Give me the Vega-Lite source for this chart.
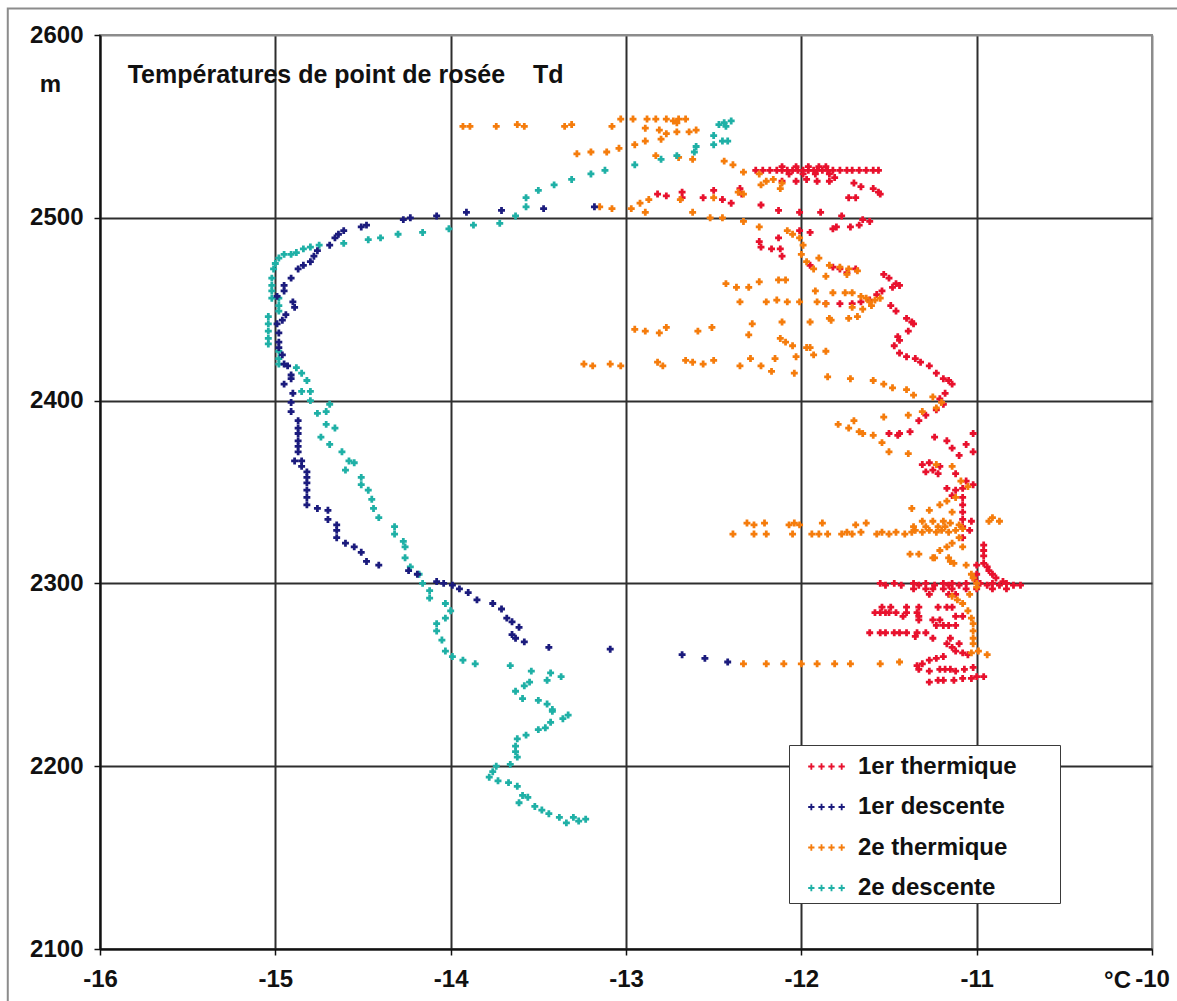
{
"$schema":"https://vega.github.io/schema/vega-lite/v6.json",
"width":1052,"height":914,
"autosize":{"type":"none"},
"padding":{"left":100,"top":35,"right":25,"bottom":52},
"background":"white",
"config":{
 "font":"Liberation Sans",
 "view":{"stroke":"#8c8c8c","strokeWidth":2},
 "axis":{"labelFont":"Liberation Sans","labelFontWeight":"bold","labelFontSize":24,"labelColor":"#111","titleFont":"Liberation Sans","titleFontWeight":"bold","titleFontSize":24,"titleColor":"#111","tickColor":"#111","tickWidth":1.5,"tickSize":6,"domainColor":"#111","domainWidth":2,"gridWidth":2,"labelOverlap":false,"labelFlush":false},
 "legend":{"orient":"none","legendX":689,"legendY":710,"fillColor":"white","strokeColor":"#3a3a3a","padding":3,"symbolType":"M-0.99,-0.05H-0.87V-0.17H-0.77V-0.05H-0.65V0.05H-0.77V0.17H-0.87V0.05H-0.99Z M-0.44,-0.05H-0.32V-0.17H-0.22V-0.05H-0.1V0.05H-0.22V0.17H-0.32V0.05H-0.44Z M0.1,-0.05H0.22V-0.17H0.32V-0.05H0.44V0.05H0.32V0.17H0.22V0.05H0.1Z M0.65,-0.05H0.77V-0.17H0.87V-0.05H0.99V0.05H0.87V0.17H0.77V0.05H0.65Z","symbolSize":1369,"symbolOffset":16,"symbolStrokeWidth":0,"labelOffset":13,"rowPadding":9.5,"labelFont":"Liberation Sans","labelFontSize":24,"labelFontWeight":"bold","labelColor":"#111","labelLimit":500}
},
"datasets":{
"t1":[{"x":-11.27,"y":2246},{"x":-11.22,"y":2247},{"x":-11.19,"y":2247},{"x":-11.13,"y":2247},{"x":-11.08,"y":2248},{"x":-11.03,"y":2248},{"x":-11.0,"y":2249},{"x":-10.96,"y":2249},
{"x":-11.27,"y":2252},{"x":-11.21,"y":2253},{"x":-11.18,"y":2253},{"x":-11.15,"y":2253},{"x":-11.12,"y":2252},{"x":-11.07,"y":2253},{"x":-11.02,"y":2254},{"x":-11.33,"y":2253},
{"x":-11.34,"y":2255},{"x":-11.31,"y":2256},{"x":-11.27,"y":2258},{"x":-11.23,"y":2259},{"x":-11.19,"y":2260},
{"x":-11.17,"y":2267},{"x":-11.14,"y":2265},{"x":-11.12,"y":2263},{"x":-11.08,"y":2262},{"x":-11.05,"y":2261},{"x":-11.15,"y":2270},{"x":-11.1,"y":2267},
{"x":-11.61,"y":2273},{"x":-11.55,"y":2273},{"x":-11.52,"y":2273},{"x":-11.47,"y":2273},{"x":-11.44,"y":2273},{"x":-11.4,"y":2273},{"x":-11.34,"y":2273},{"x":-11.29,"y":2273},{"x":-11.35,"y":2271},{"x":-11.25,"y":2270},
{"x":-11.23,"y":2277},{"x":-11.19,"y":2277},{"x":-11.16,"y":2277},{"x":-11.12,"y":2277},{"x":-11.33,"y":2280},{"x":-11.25,"y":2280},{"x":-11.21,"y":2280},
{"x":-11.58,"y":2284},{"x":-11.55,"y":2284},{"x":-11.52,"y":2284},{"x":-11.5,"y":2284},{"x":-11.46,"y":2284},{"x":-11.4,"y":2284},{"x":-11.34,"y":2284},
{"x":-11.54,"y":2287},{"x":-11.49,"y":2287},{"x":-11.4,"y":2287},{"x":-11.33,"y":2287},{"x":-11.22,"y":2287},{"x":-11.17,"y":2287},{"x":-11.14,"y":2287},
{"x":-11.42,"y":2282},{"x":-11.33,"y":2282},{"x":-11.12,"y":2282},{"x":-11.08,"y":2282},
{"x":-11.55,"y":2300},{"x":-11.52,"y":2299},{"x":-11.47,"y":2300},{"x":-11.43,"y":2299},{"x":-11.36,"y":2300},{"x":-11.33,"y":2299},{"x":-11.29,"y":2300},{"x":-11.24,"y":2299},{"x":-11.19,"y":2300},{"x":-11.16,"y":2299},{"x":-11.14,"y":2300},{"x":-11.1,"y":2299},{"x":-11.06,"y":2300},{"x":-10.98,"y":2300},{"x":-10.94,"y":2299},{"x":-10.91,"y":2300},{"x":-10.87,"y":2299},{"x":-10.83,"y":2300},{"x":-10.79,"y":2299},{"x":-10.75,"y":2299},
{"x":-11.36,"y":2297},{"x":-11.29,"y":2297},{"x":-11.25,"y":2297},{"x":-11.19,"y":2297},{"x":-11.14,"y":2297},{"x":-11.06,"y":2297},{"x":-11.0,"y":2297},{"x":-10.91,"y":2297},{"x":-10.83,"y":2297},
{"x":-11.27,"y":2294},{"x":-11.16,"y":2294},{"x":-11.12,"y":2294},
{"x":-10.96,"y":2321},{"x":-10.96,"y":2318},{"x":-10.96,"y":2315},{"x":-10.96,"y":2311},{"x":-10.94,"y":2309},{"x":-10.93,"y":2307},{"x":-10.91,"y":2305},{"x":-10.89,"y":2303},{"x":-10.85,"y":2301},{"x":-11.0,"y":2310},{"x":-11.0,"y":2305},{"x":-11.01,"y":2302},
{"x":-11.08,"y":2347},{"x":-11.08,"y":2343},{"x":-11.08,"y":2339},{"x":-11.08,"y":2335},{"x":-11.08,"y":2331},{"x":-11.12,"y":2360},{"x":-11.06,"y":2356},{"x":-11.02,"y":2354},{"x":-11.08,"y":2352},{"x":-11.12,"y":2351},{"x":-11.17,"y":2352},{"x":-11.14,"y":2348},{"x":-11.03,"y":2334},{"x":-11.04,"y":2329},{"x":-11.08,"y":2325},
{"x":-11.31,"y":2365},{"x":-11.27,"y":2366},{"x":-11.25,"y":2362},{"x":-11.29,"y":2361},{"x":-11.21,"y":2364},{"x":-11.22,"y":2360},
{"x":-11.24,"y":2380},{"x":-11.17,"y":2378},{"x":-11.14,"y":2374},{"x":-11.1,"y":2370},{"x":-11.06,"y":2376},{"x":-11.02,"y":2372},{"x":-11.02,"y":2382},{"x":-11.5,"y":2382},{"x":-11.45,"y":2381},
{"x":-11.29,"y":2392},{"x":-11.33,"y":2389},{"x":-11.38,"y":2383},{"x":-11.44,"y":2382},
{"x":-11.23,"y":2395},{"x":-11.19,"y":2398},{"x":-11.21,"y":2401},{"x":-11.18,"y":2404},{"x":-11.14,"y":2409},{"x":-11.16,"y":2411},{"x":-11.19,"y":2412},{"x":-11.23,"y":2415},{"x":-11.27,"y":2419},{"x":-11.32,"y":2421},{"x":-11.35,"y":2423},{"x":-11.4,"y":2424},{"x":-11.44,"y":2426},{"x":-11.47,"y":2430},{"x":-11.44,"y":2433},{"x":-11.45,"y":2435},{"x":-11.39,"y":2438},{"x":-11.36,"y":2442},{"x":-11.37,"y":2443},{"x":-11.4,"y":2445},{"x":-11.46,"y":2449},{"x":-11.49,"y":2452},{"x":-11.54,"y":2460},{"x":-11.57,"y":2458},{"x":-11.61,"y":2455},{"x":-11.66,"y":2454},{"x":-11.71,"y":2453},{"x":-11.78,"y":2453},{"x":-11.86,"y":2453},{"x":-11.48,"y":2462},{"x":-11.44,"y":2463},{"x":-11.46,"y":2464},{"x":-11.5,"y":2467},{"x":-11.53,"y":2469},
{"x":-11.95,"y":2474},{"x":-11.82,"y":2473},{"x":-11.78,"y":2472},{"x":-11.74,"y":2470},{"x":-11.69,"y":2472},
{"x":-12.24,"y":2487},{"x":-12.23,"y":2484},{"x":-12.17,"y":2483},{"x":-12.13,"y":2489},{"x":-12.11,"y":2479},{"x":-12.12,"y":2483},{"x":-12.01,"y":2493},{"x":-11.95,"y":2492},
{"x":-11.82,"y":2494},{"x":-11.72,"y":2495},{"x":-11.67,"y":2496},{"x":-11.61,"y":2498},{"x":-11.65,"y":2499},{"x":-11.8,"y":2495},{"x":-11.77,"y":2501},
{"x":-12.23,"y":2507},{"x":-12.13,"y":2504},{"x":-12.01,"y":2503},{"x":-11.89,"y":2503},
{"x":-12.82,"y":2513},{"x":-12.77,"y":2512},{"x":-12.68,"y":2514},{"x":-12.68,"y":2511},{"x":-12.56,"y":2511},{"x":-12.5,"y":2515},{"x":-12.45,"y":2510},{"x":-12.4,"y":2508},{"x":-12.35,"y":2516},{"x":-12.34,"y":2513},
{"x":-11.7,"y":2519},{"x":-11.66,"y":2517},{"x":-11.59,"y":2516},{"x":-11.56,"y":2514},{"x":-11.55,"y":2513},{"x":-11.69,"y":2511},{"x":-11.73,"y":2511},
{"x":-12.11,"y":2520},{"x":-12.03,"y":2520},{"x":-11.97,"y":2521},{"x":-11.91,"y":2520},{"x":-11.84,"y":2520},{"x":-11.81,"y":2522},
{"x":-12.26,"y":2526},{"x":-12.22,"y":2526},{"x":-12.18,"y":2526},{"x":-12.14,"y":2526},{"x":-12.11,"y":2526},{"x":-12.08,"y":2526},{"x":-12.05,"y":2526},{"x":-12.02,"y":2526},{"x":-11.99,"y":2526},{"x":-11.96,"y":2526},{"x":-11.93,"y":2526},{"x":-11.91,"y":2526},{"x":-11.88,"y":2526},{"x":-11.85,"y":2526},{"x":-11.82,"y":2526},{"x":-11.78,"y":2526},{"x":-11.74,"y":2526},{"x":-11.71,"y":2526},{"x":-11.67,"y":2526},{"x":-11.63,"y":2526},{"x":-11.59,"y":2526},{"x":-11.56,"y":2526},
{"x":-12.11,"y":2528},{"x":-12.03,"y":2528},{"x":-11.96,"y":2528},{"x":-11.9,"y":2528},{"x":-11.86,"y":2528},
{"x":-12.07,"y":2524},{"x":-11.99,"y":2524},{"x":-11.92,"y":2524},{"x":-11.84,"y":2524}],
"t2":[{"x":-13.93,"y":2550},{"x":-13.89,"y":2550},{"x":-13.74,"y":2550},{"x":-13.62,"y":2551},{"x":-13.58,"y":2550},{"x":-13.35,"y":2550},{"x":-13.31,"y":2551},{"x":-13.08,"y":2550},{"x":-13.03,"y":2554},{"x":-12.96,"y":2554},{"x":-12.88,"y":2554},{"x":-12.83,"y":2554},{"x":-12.77,"y":2554},{"x":-12.73,"y":2553},{"x":-12.7,"y":2554},{"x":-12.66,"y":2554},{"x":-12.71,"y":2552},{"x":-12.89,"y":2549},{"x":-12.81,"y":2548},{"x":-12.77,"y":2546},{"x":-12.71,"y":2547},{"x":-12.64,"y":2547},{"x":-12.6,"y":2548},{"x":-12.95,"y":2540},{"x":-12.89,"y":2542},{"x":-12.8,"y":2543},{"x":-12.83,"y":2534},{"x":-12.7,"y":2533},{"x":-12.62,"y":2532},{"x":-12.44,"y":2531},{"x":-12.39,"y":2529},{"x":-12.33,"y":2525},{"x":-12.24,"y":2524},{"x":-12.2,"y":2520},{"x":-12.16,"y":2521},{"x":-12.11,"y":2519},{"x":-12.23,"y":2518},{"x":-12.12,"y":2516},{"x":-12.36,"y":2514},{"x":-12.33,"y":2513},{"x":-12.5,"y":2511},{"x":-12.69,"y":2510},{"x":-12.97,"y":2505},{"x":-12.92,"y":2508},{"x":-12.87,"y":2510},{"x":-12.89,"y":2503},{"x":-13.08,"y":2505},{"x":-13.15,"y":2506},{"x":-13.2,"y":2536},{"x":-13.11,"y":2536},{"x":-13.04,"y":2538},{"x":-13.28,"y":2535},{"x":-12.62,"y":2503},{"x":-12.52,"y":2500},{"x":-12.45,"y":2500},{"x":-12.33,"y":2498},{"x":-12.24,"y":2495},
{"x":-12.08,"y":2493},{"x":-12.05,"y":2491},{"x":-12.01,"y":2489},{"x":-11.99,"y":2485},{"x":-12.0,"y":2480},{"x":-11.97,"y":2476},{"x":-11.93,"y":2472},{"x":-11.9,"y":2478},{"x":-11.84,"y":2474},{"x":-11.78,"y":2473},{"x":-11.73,"y":2472},{"x":-11.68,"y":2471},{"x":-11.86,"y":2468},{"x":-11.74,"y":2469},{"x":-12.09,"y":2466},{"x":-12.13,"y":2466},{"x":-12.24,"y":2465},{"x":-12.43,"y":2464},{"x":-12.37,"y":2462},{"x":-12.3,"y":2462},{"x":-12.35,"y":2454},{"x":-12.2,"y":2454},{"x":-12.14,"y":2455},{"x":-12.08,"y":2454},{"x":-12.01,"y":2454},{"x":-11.92,"y":2460},{"x":-11.82,"y":2459},{"x":-11.75,"y":2459},{"x":-11.71,"y":2459},{"x":-11.66,"y":2457},{"x":-11.63,"y":2456},{"x":-11.61,"y":2454},{"x":-11.58,"y":2455},{"x":-11.55,"y":2456},{"x":-11.6,"y":2452},{"x":-11.65,"y":2450},{"x":-11.71,"y":2451},{"x":-11.73,"y":2445},{"x":-11.68,"y":2446},{"x":-11.83,"y":2444},{"x":-11.91,"y":2454},{"x":-11.86,"y":2453},{"x":-11.84,"y":2445},{"x":-11.95,"y":2443},{"x":-12.11,"y":2443},{"x":-12.28,"y":2442},{"x":-12.3,"y":2436},{"x":-12.51,"y":2440},{"x":-12.59,"y":2438},{"x":-12.95,"y":2439},{"x":-12.89,"y":2438},{"x":-12.81,"y":2437},{"x":-12.77,"y":2440},{"x":-12.12,"y":2434},{"x":-12.09,"y":2432},{"x":-12.05,"y":2430},{"x":-11.97,"y":2429},{"x":-11.86,"y":2427},{"x":-11.93,"y":2425},{"x":-11.95,"y":2429},
{"x":-13.24,"y":2420},{"x":-13.19,"y":2419},{"x":-13.09,"y":2420},{"x":-13.03,"y":2419},{"x":-12.82,"y":2421},{"x":-12.79,"y":2419},{"x":-12.66,"y":2422},{"x":-12.62,"y":2421},{"x":-12.56,"y":2420},{"x":-12.5,"y":2422},{"x":-12.35,"y":2419},{"x":-12.29,"y":2423},{"x":-12.23,"y":2419},{"x":-12.17,"y":2416},{"x":-12.04,"y":2415},{"x":-12.15,"y":2423},{"x":-12.03,"y":2424},
{"x":-11.85,"y":2413},{"x":-11.72,"y":2412},{"x":-11.59,"y":2411},{"x":-11.53,"y":2409},{"x":-11.48,"y":2407},{"x":-11.4,"y":2406},{"x":-11.36,"y":2403},{"x":-11.25,"y":2402},{"x":-11.2,"y":2399},{"x":-11.23,"y":2396},{"x":-11.31,"y":2394},{"x":-11.39,"y":2392},{"x":-11.53,"y":2391},{"x":-11.7,"y":2389},{"x":-11.79,"y":2387},{"x":-11.73,"y":2385},{"x":-11.67,"y":2383},{"x":-11.65,"y":2382},{"x":-11.59,"y":2381},{"x":-11.54,"y":2377},{"x":-11.5,"y":2372},{"x":-11.39,"y":2371},{"x":-11.23,"y":2365},{"x":-11.14,"y":2364},{"x":-11.09,"y":2356},{"x":-11.12,"y":2347},{"x":-11.05,"y":2353},
{"x":-11.37,"y":2341},{"x":-11.27,"y":2340},{"x":-11.21,"y":2343},{"x":-11.17,"y":2345},{"x":-11.14,"y":2339},
{"x":-12.39,"y":2327},{"x":-12.27,"y":2327},{"x":-12.2,"y":2327},{"x":-12.05,"y":2327},{"x":-11.94,"y":2327},{"x":-11.9,"y":2327},{"x":-11.85,"y":2327},{"x":-11.77,"y":2327},{"x":-11.74,"y":2328},{"x":-11.71,"y":2327},{"x":-11.66,"y":2328},{"x":-11.57,"y":2327},{"x":-11.54,"y":2328},{"x":-11.5,"y":2327},{"x":-11.46,"y":2328},{"x":-11.41,"y":2327},{"x":-11.37,"y":2328},{"x":-11.35,"y":2329},{"x":-11.31,"y":2328},{"x":-11.27,"y":2329},{"x":-11.23,"y":2328},{"x":-11.2,"y":2329},{"x":-11.16,"y":2328},{"x":-11.12,"y":2329},{"x":-11.08,"y":2330},
{"x":-12.31,"y":2333},{"x":-12.27,"y":2332},{"x":-12.21,"y":2333},{"x":-12.07,"y":2332},{"x":-12.04,"y":2333},{"x":-12.01,"y":2332},{"x":-11.88,"y":2333},{"x":-11.69,"y":2332},{"x":-11.63,"y":2333},{"x":-11.36,"y":2331},{"x":-11.31,"y":2334},{"x":-11.25,"y":2334},{"x":-11.19,"y":2334},{"x":-11.15,"y":2333},{"x":-11.29,"y":2331},{"x":-11.22,"y":2331},{"x":-11.18,"y":2331},{"x":-11.1,"y":2332},
{"x":-10.91,"y":2336},{"x":-10.87,"y":2334},{"x":-10.93,"y":2334},
{"x":-11.38,"y":2316},{"x":-11.33,"y":2316},{"x":-11.25,"y":2314},{"x":-11.21,"y":2318},{"x":-11.17,"y":2320},{"x":-11.14,"y":2322},{"x":-11.1,"y":2325},{"x":-11.15,"y":2312},{"x":-11.13,"y":2311},{"x":-11.24,"y":2314},{"x":-11.16,"y":2314},{"x":-11.08,"y":2320},
{"x":-11.02,"y":2303},{"x":-11.0,"y":2300},{"x":-11.0,"y":2298},{"x":-11.04,"y":2294},{"x":-11.14,"y":2293},{"x":-11.11,"y":2291},{"x":-11.08,"y":2289},{"x":-11.05,"y":2285},{"x":-11.03,"y":2281},{"x":-11.02,"y":2278},{"x":-11.02,"y":2274},{"x":-11.02,"y":2270},{"x":-11.02,"y":2267},{"x":-11.03,"y":2262},{"x":-10.99,"y":2263},{"x":-10.94,"y":2261},{"x":-11.06,"y":2310},{"x":-11.03,"y":2305},
{"x":-12.33,"y":2256},{"x":-12.2,"y":2256},{"x":-12.1,"y":2256},{"x":-12.0,"y":2256},{"x":-11.91,"y":2256},{"x":-11.81,"y":2256},{"x":-11.72,"y":2256},{"x":-11.55,"y":2256},{"x":-11.44,"y":2257}],
"d2":[{"x":-12.4,"y":2553},{"x":-12.44,"y":2552},{"x":-12.47,"y":2551},{"x":-12.43,"y":2550},{"x":-12.5,"y":2545},{"x":-12.5,"y":2540},{"x":-12.45,"y":2542},{"x":-12.42,"y":2542},{"x":-12.6,"y":2539},{"x":-12.61,"y":2536},{"x":-12.71,"y":2534},{"x":-12.8,"y":2532},{"x":-12.95,"y":2529},{"x":-13.12,"y":2526},{"x":-13.2,"y":2524},{"x":-13.31,"y":2521},{"x":-13.41,"y":2518},{"x":-13.5,"y":2515},{"x":-13.57,"y":2511},{"x":-13.57,"y":2506},{"x":-13.63,"y":2501},{"x":-13.72,"y":2497},{"x":-13.87,"y":2496},{"x":-14.01,"y":2494},{"x":-14.16,"y":2492},{"x":-14.3,"y":2491},{"x":-14.4,"y":2489},{"x":-14.47,"y":2488},{"x":-14.61,"y":2486},{"x":-14.75,"y":2485},{"x":-14.8,"y":2484},{"x":-14.84,"y":2483},{"x":-14.88,"y":2481},{"x":-14.91,"y":2480},{"x":-14.95,"y":2480},{"x":-14.98,"y":2478},{"x":-15.0,"y":2475},{"x":-15.01,"y":2472},{"x":-15.02,"y":2467},{"x":-15.02,"y":2463},{"x":-15.02,"y":2460},{"x":-15.02,"y":2456},{"x":-14.98,"y":2456},{"x":-14.98,"y":2452},{"x":-14.98,"y":2449},{"x":-15.04,"y":2446},{"x":-15.04,"y":2442},{"x":-15.04,"y":2438},{"x":-15.04,"y":2434},{"x":-15.04,"y":2431},{"x":-14.98,"y":2427},{"x":-14.98,"y":2423},{"x":-14.98,"y":2420},{"x":-14.88,"y":2418},{"x":-14.85,"y":2415},{"x":-14.82,"y":2411},{"x":-14.85,"y":2405},{"x":-14.8,"y":2405},{"x":-14.8,"y":2400},{"x":-14.69,"y":2398},{"x":-14.71,"y":2394},{"x":-14.76,"y":2393},{"x":-14.71,"y":2387},{"x":-14.66,"y":2385},{"x":-14.74,"y":2380},{"x":-14.69,"y":2376},{"x":-14.62,"y":2372},{"x":-14.58,"y":2367},{"x":-14.55,"y":2366},{"x":-14.6,"y":2362},{"x":-14.51,"y":2358},{"x":-14.51,"y":2354},{"x":-14.47,"y":2351},{"x":-14.45,"y":2346},{"x":-14.44,"y":2341},{"x":-14.41,"y":2336},{"x":-14.32,"y":2331},{"x":-14.32,"y":2327},{"x":-14.27,"y":2323},{"x":-14.26,"y":2320},{"x":-14.26,"y":2314},{"x":-14.23,"y":2309},{"x":-14.18,"y":2305},{"x":-14.16,"y":2300},{"x":-14.12,"y":2296},{"x":-14.12,"y":2292},{"x":-14.03,"y":2289},{"x":-14.0,"y":2285},{"x":-14.03,"y":2281},{"x":-14.08,"y":2278},{"x":-14.08,"y":2274},{"x":-14.05,"y":2269},{"x":-14.03,"y":2263},{"x":-13.99,"y":2260},{"x":-13.93,"y":2258},{"x":-13.86,"y":2256},{"x":-13.66,"y":2255},{"x":-13.54,"y":2252},{"x":-13.43,"y":2251},{"x":-13.37,"y":2249},{"x":-13.45,"y":2247},{"x":-13.55,"y":2246},{"x":-13.58,"y":2244},{"x":-13.63,"y":2241},{"x":-13.59,"y":2237},{"x":-13.5,"y":2236},{"x":-13.45,"y":2234},{"x":-13.42,"y":2231},{"x":-13.42,"y":2230},{"x":-13.33,"y":2228},{"x":-13.36,"y":2226},{"x":-13.43,"y":2224},{"x":-13.46,"y":2221},{"x":-13.5,"y":2220},{"x":-13.57,"y":2217},{"x":-13.62,"y":2215},{"x":-13.63,"y":2211},{"x":-13.63,"y":2208},{"x":-13.62,"y":2205},{"x":-13.66,"y":2201},{"x":-13.74,"y":2200},{"x":-13.76,"y":2197},{"x":-13.78,"y":2194},{"x":-13.73,"y":2192},{"x":-13.67,"y":2191},{"x":-13.62,"y":2189},{"x":-13.59,"y":2184},{"x":-13.56,"y":2183},{"x":-13.61,"y":2180},{"x":-13.52,"y":2178},{"x":-13.48,"y":2176},{"x":-13.44,"y":2174},{"x":-13.38,"y":2172},{"x":-13.34,"y":2169},{"x":-13.3,"y":2172},{"x":-13.27,"y":2170},{"x":-13.23,"y":2171}],
"d1":[{"x":-12.42,"y":2257},{"x":-12.55,"y":2259},{"x":-12.68,"y":2261},{"x":-13.09,"y":2264},{"x":-13.44,"y":2265},{"x":-13.58,"y":2268},{"x":-13.63,"y":2270},{"x":-13.65,"y":2272},{"x":-13.61,"y":2276},{"x":-13.65,"y":2279},{"x":-13.68,"y":2281},{"x":-13.71,"y":2286},{"x":-13.76,"y":2289},{"x":-13.85,"y":2291},{"x":-13.9,"y":2295},{"x":-13.95,"y":2297},{"x":-13.99,"y":2299},{"x":-14.04,"y":2300},{"x":-14.08,"y":2301},{"x":-14.19,"y":2305},{"x":-14.24,"y":2307},{"x":-14.41,"y":2310},{"x":-14.48,"y":2312},{"x":-14.51,"y":2317},{"x":-14.55,"y":2320},{"x":-14.6,"y":2322},{"x":-14.65,"y":2325},{"x":-14.65,"y":2329},{"x":-14.65,"y":2332},{"x":-14.7,"y":2335},{"x":-14.7,"y":2340},{"x":-14.76,"y":2341},{"x":-14.82,"y":2343},{"x":-14.82,"y":2347},{"x":-14.82,"y":2351},{"x":-14.82,"y":2355},{"x":-14.82,"y":2358},{"x":-14.82,"y":2361},{"x":-14.85,"y":2364},{"x":-14.85,"y":2367},{"x":-14.89,"y":2367},{"x":-14.87,"y":2372},{"x":-14.87,"y":2375},{"x":-14.87,"y":2378},{"x":-14.87,"y":2382},{"x":-14.87,"y":2385},{"x":-14.87,"y":2389},{"x":-14.91,"y":2394},{"x":-14.91,"y":2399},{"x":-14.9,"y":2404},{"x":-14.95,"y":2409},{"x":-14.91,"y":2412},{"x":-14.91,"y":2414},{"x":-14.93,"y":2419},{"x":-14.95,"y":2420},{"x":-14.96,"y":2425},{"x":-14.98,"y":2429},{"x":-14.98,"y":2432},{"x":-14.98,"y":2437},{"x":-14.99,"y":2442},{"x":-14.96,"y":2444},{"x":-14.94,"y":2447},{"x":-14.89,"y":2451},{"x":-14.9,"y":2454},{"x":-14.99,"y":2457},{"x":-14.95,"y":2460},{"x":-14.95,"y":2463},{"x":-14.91,"y":2467},{"x":-14.87,"y":2472},{"x":-14.84,"y":2474},{"x":-14.8,"y":2476},{"x":-14.78,"y":2479},{"x":-14.76,"y":2482},{"x":-14.69,"y":2485},{"x":-14.66,"y":2489},{"x":-14.64,"y":2491},{"x":-14.61,"y":2493},{"x":-14.51,"y":2495},{"x":-14.48,"y":2496},{"x":-14.27,"y":2499},{"x":-14.23,"y":2500},{"x":-14.08,"y":2501},{"x":-13.91,"y":2503},{"x":-13.71,"y":2504},{"x":-13.47,"y":2505},{"x":-13.18,"y":2506}]
},
"layer":[
 {"data":{"values":[{}]},
  "mark":{"type":"rect","fill":"transparent","stroke":"#8c8c8c","strokeWidth":2,"clip":false},
  "encoding":{"x":{"datum":-16.526,"type":"quantitative"},"x2":{"datum":-9.8},"y":{"datum":2614.5,"type":"quantitative"},"y2":{"datum":2040}}},
 {"layer":[
   {"data":{"name":"t1"},"mark":{"type":"point","shape":"cross","filled":true,"size":48,"opacity":1,"strokeWidth":0},
    "encoding":{"color":{"datum":"1er thermique","type":"nominal","scale":{"domain":["1er thermique","1er descente","2e thermique","2e descente"],"range":["#e8112d","#1b1b7d","#f57c0c","#1fb0a6"]},"legend":{"title":null,"labelExpr":"datum.label + '\u00a0\u00a0\u00a0\u00a0\u00a0\u00a0\u200b'"}}}},
   {"data":{"name":"t2"},"mark":{"type":"point","shape":"cross","filled":true,"size":48,"opacity":1,"strokeWidth":0},
    "encoding":{"color":{"datum":"2e thermique","type":"nominal"}}},
   {"data":{"name":"d2"},"mark":{"type":"point","shape":"cross","filled":true,"size":48,"opacity":1,"strokeWidth":0},
    "encoding":{"color":{"datum":"2e descente","type":"nominal"}}},
   {"data":{"name":"d1"},"mark":{"type":"point","shape":"cross","filled":true,"size":48,"opacity":1,"strokeWidth":0},
    "encoding":{"color":{"datum":"1er descente","type":"nominal"}}}
  ],
  "encoding":{
   "x":{"field":"x","type":"quantitative","scale":{"domain":[-16,-10],"nice":false,"zero":false},
        "axis":{"values":[-16,-15,-14,-13,-12,-11,-10],"labelExpr":"'' + datum.value","labelPadding":12,"title":"°C","titleX":1017,"titleY":31,"titleAlign":"center","titleBaseline":"middle","grid":true,"gridColor":{"condition":{"test":"datum.value === -10","value":"#8c8c8c"},"value":"#2e2e2e"}}},
   "y":{"field":"y","type":"quantitative","scale":{"domain":[2100,2600],"nice":false,"zero":false},
        "axis":{"values":[2100,2200,2300,2400,2500,2600],"labelExpr":"'' + datum.value","labelPadding":11,"title":"m","titleAngle":0,"titleX":-50,"titleY":56,"titleAlign":"center","titleBaseline":"alphabetic","grid":true,"gridColor":{"condition":{"test":"datum.value === 2600","value":"#8c8c8c"},"value":"#2e2e2e"}}}
  }},
 {"data":{"values":[{}]},
  "mark":{"type":"text","text":"Températures de point de rosée\u00a0\u00a0\u00a0\u00a0Td","align":"left","baseline":"alphabetic","font":"Liberation Sans","fontSize":25,"fontWeight":"bold","color":"#111"},
  "encoding":{"x":{"datum":-15.842,"type":"quantitative"},"y":{"datum":2573.7,"type":"quantitative"}}}
]
}
